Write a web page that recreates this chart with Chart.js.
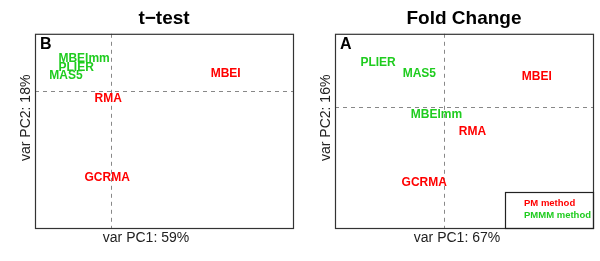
<!DOCTYPE html>
<html>
<head>
<meta charset="utf-8">
<script src="https://cdn.jsdelivr.net/npm/chart.js@4.4.1/dist/chart.umd.min.js"></script>
<style>
  html, body { margin: 0; padding: 0; background: #fff; }
  #wrap { width: 600px; height: 261px; display: flex; }
  .panel { width: 300px; height: 261px; position: relative; }
</style>
</head>
<body>
<div id="wrap">
  <div class="panel"><canvas id="graficoTTest"></canvas></div>
  <div class="panel"><canvas id="graficoFold"></canvas></div>
</div>
<script>
// Metodos (mismo orden en los dos paneles)
const metodos = ['MBEImm', 'PLIER', 'MAS5', 'MBEI', 'RMA', 'GCRMA'];
const tipoMetodo = ['PMMM', 'PMMM', 'PMMM', 'PM', 'PM', 'PM'];

// Panel B: t-test
const ttestPC1 = [-1.07, -1.38, -1.78, 4.50, -0.12, -0.16];
const ttestPC2 = [1.68, 1.21, 0.79, 0.89, -0.42, -4.57];
const ttestRangoX = [-3, 7.15];
const ttestRangoY = [-7.2, 3];

// Panel A: Fold Change
const foldPC1 = [-0.31, -2.57, -0.97, 3.58, 1.09, -0.78];
const foldPC2 = [-0.41, 2.27, 1.70, 1.55, -1.29, -3.92];
const foldRangoX = [-4.24, 5.76];
const foldRangoY = [-6.24, 3.76];

const coloresTipo = { PM: '#ff0000', PMMM: '#1fcc1f' };
const leyenda = [['PM method', 'PM'], ['PMMM method', 'PMMM']];
const fuente = '"Liberation Sans", Arial, Helvetica, sans-serif';

// Plugin que dibuja caja, lineas punteadas, etiquetas y textos de ejes
const pluginPCA = {
    id: 'pluginPCA',
    afterDraw(chart) {
        const cfg = chart.options.plugins.pluginPCA;
        const ctx = chart.ctx;
        const area = chart.chartArea;
        const sx = chart.scales.x, sy = chart.scales.y;
        ctx.save();

        // lineas punteadas en cero
        ctx.strokeStyle = '#888';
        ctx.lineWidth = 1;
        ctx.setLineDash([4, 4]);
        const x0 = Math.round(sx.getPixelForValue(0)) + 0.5;
        const y0 = Math.round(sy.getPixelForValue(0)) + 0.5;
        ctx.beginPath();
        ctx.moveTo(x0, area.top); ctx.lineTo(x0, area.bottom);
        ctx.moveTo(area.left, y0); ctx.lineTo(area.right, y0);
        ctx.stroke();
        ctx.setLineDash([]);

        // etiquetas de los metodos
        ctx.font = 'bold 12px ' + fuente;
        ctx.textAlign = 'center';
        ctx.textBaseline = 'middle';
        const ds = chart.data.datasets[0];
        ds.data.forEach((p, i) => {
            ctx.fillStyle = coloresTipo[tipoMetodo[i]];
            ctx.fillText(metodos[i], sx.getPixelForValue(p.x), sy.getPixelForValue(p.y));
        });

        // caja
        ctx.strokeStyle = '#333';
        ctx.lineWidth = 1.2;
        ctx.strokeRect(area.left + 0.5, area.top + 0.5, area.right - area.left, area.bottom - area.top);

        // letra del panel
        ctx.fillStyle = '#000';
        ctx.font = 'bold 16px ' + fuente;
        ctx.textAlign = 'left';
        ctx.fillText(cfg.letra, area.left + 5, area.top + 11);

        // titulos de ejes
        ctx.fillStyle = '#222';
        ctx.font = '14px ' + fuente;
        ctx.textAlign = 'center';
        ctx.fillText(cfg.ejeX, area.left + cfg.desplX, area.bottom + 10);
        ctx.translate(area.left - 9, area.top + cfg.desplY);
        ctx.rotate(-Math.PI / 2);
        ctx.fillText(cfg.ejeY, 0, 0);
        ctx.setTransform(1, 0, 0, 1, 0, 0);

        // leyenda
        if (cfg.leyenda) {
            ctx.strokeStyle = '#222';
            ctx.lineWidth = 1.2;
            ctx.strokeRect(area.right - 88 + 0.5, area.bottom - 36 + 0.5, 88, 36);
            ctx.font = 'bold 9.5px ' + fuente;
            ctx.textAlign = 'left';
            leyenda.forEach((l, i) => {
                ctx.fillStyle = coloresTipo[l[1]];
                ctx.fillText(l[0], area.right - 69, area.bottom - 25 + i * 12);
            });
        }
        ctx.restore();
    }
};

function GraficoPCA(idCanvas, titulo, pc1, pc2, rangoX, rangoY, extra) {
    const ctx = document.getElementById(idCanvas).getContext('2d');
    return new Chart(ctx, {
        type: 'scatter',
        data: {
            datasets: [{
                data: pc1.map((x, i) => ({ x: x, y: pc2[i] })),
                pointRadius: 0,
                pointHoverRadius: 0
            }]
        },
        options: {
            responsive: false,
            animation: false,
            events: [],
            layout: { padding: { left: 35, right: 7, top: 0, bottom: 33 } },
            scales: {
                x: { type: 'linear', min: rangoX[0], max: rangoX[1], display: false },
                y: { type: 'linear', min: rangoY[0], max: rangoY[1], display: false }
            },
            plugins: {
                legend: { display: false },
                tooltip: { enabled: false },
                title: {
                    display: true,
                    text: titulo,
                    color: '#000',
                    font: { family: fuente, size: 19, weight: 'bold' },
                    padding: { top: 7, bottom: 4 }
                },
                pluginPCA: extra
            }
        },
        plugins: [pluginPCA]
    });
}

document.getElementById('graficoTTest').width = 300;
document.getElementById('graficoTTest').height = 261;
document.getElementById('graficoFold').width = 300;
document.getElementById('graficoFold').height = 261;

GraficoPCA('graficoTTest', 't\u2212test', ttestPC1, ttestPC2, ttestRangoX, ttestRangoY,
    { letra: 'B', ejeX: 'var PC1: 59%', ejeY: 'var PC2: 18%', desplX: 111, desplY: 84, leyenda: false });
GraficoPCA('graficoFold', 'Fold Change', foldPC1, foldPC2, foldRangoX, foldRangoY,
    { letra: 'A', ejeX: 'var PC1: 67%', ejeY: 'var PC2: 16%', desplX: 122, desplY: 84, leyenda: true });
</script>
</body>
</html>
